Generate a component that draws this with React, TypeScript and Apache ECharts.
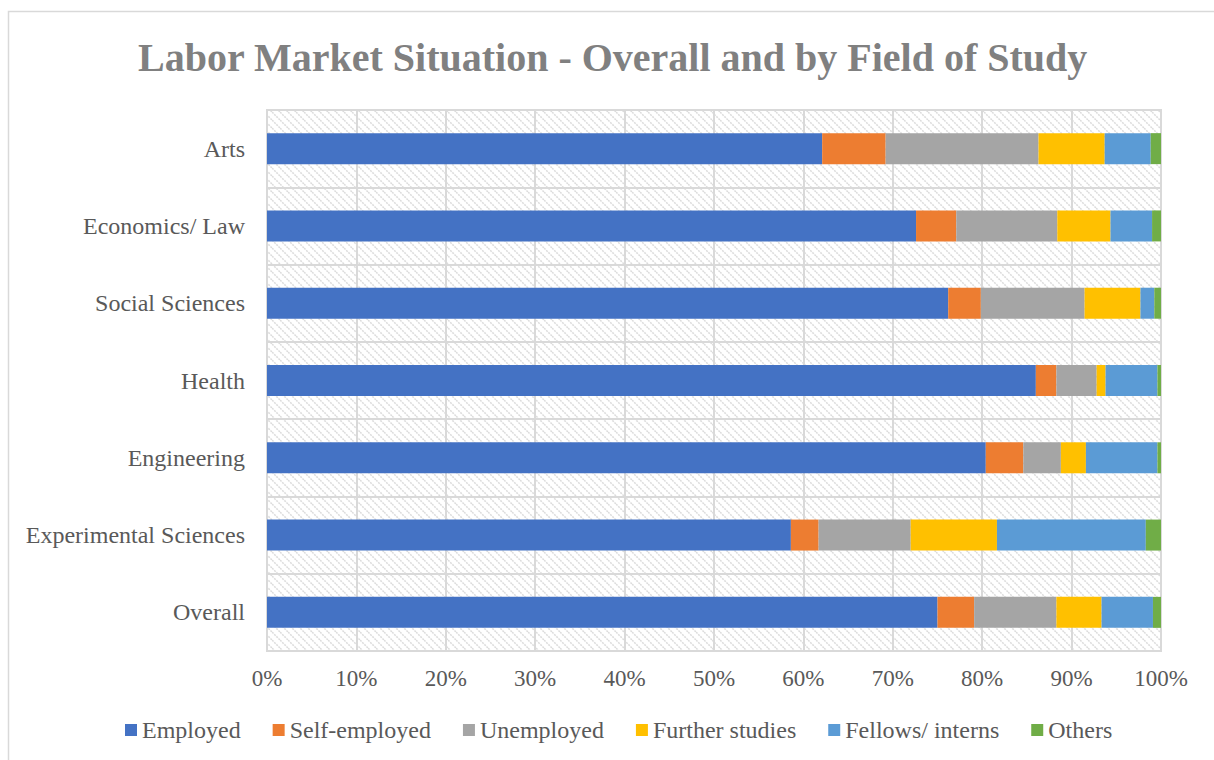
import React, { useEffect, useRef } from "react";
import * as echarts from "echarts";

const categories = [
  "Arts",
  "Economics/ Law",
  "Social Sciences",
  "Health",
  "Engineering",
  "Experimental Sciences",
  "Overall",
];
const employed = [62.1, 72.6, 76.2, 86.0, 80.4, 58.6, 75.0];
const selfEmployed = [7.1, 4.5, 3.65, 2.3, 4.2, 3.1, 4.1];
const unemployed = [17.1, 11.3, 11.6, 4.5, 4.2, 10.3, 9.2];
const furtherStudies = [7.4, 5.95, 6.25, 1.0, 2.8, 9.65, 5.05];
const fellowsInterns = [5.15, 4.65, 1.55, 5.8, 8.0, 16.65, 5.75];
const others = [1.15, 1.0, 0.75, 0.4, 0.4, 1.7, 0.9];
const seriesNames = [
  "Employed",
  "Self-employed",
  "Unemployed",
  "Further studies",
  "Fellows/ interns",
  "Others",
];
const seriesColors = ["#4472C4", "#ED7D31", "#A5A5A5", "#FFC000", "#5B9BD5", "#70AD47"];
const tickValues = [0, 10, 20, 30, 40, 50, 60, 70, 80, 90, 100];

const FONT = "'Liberation Serif', 'Times New Roman', serif";

const hatchSvg =
  "data:image/svg+xml;utf8," +
  encodeURIComponent(
    "<svg xmlns='http://www.w3.org/2000/svg' width='8' height='8'>" +
      "<rect width='8' height='8' fill='white'/>" +
      "<path d='M-2,-2 L10,10 M-2,6 L2,10 M6,-2 L10,2' stroke='#dcdcdc' stroke-width='1.5' stroke-dasharray='2,1'/>" +
      "</svg>"
  );

export default function App() {
  const ref = useRef<HTMLDivElement>(null);
  useEffect(() => {
    if (!ref.current) return;
    const chart = echarts.init(ref.current, undefined, { renderer: "svg" });
    const allData = [employed, selfEmployed, unemployed, furtherStudies, fellowsInterns, others];
    chart.setOption({
      animation: false,
      backgroundColor: "#ffffff",
      title: {
        text: "Labor Market Situation - Overall and by Field of Study",
        left: 133,
        top: 32,
        textStyle: {
          fontFamily: FONT,
          fontSize: 40,
          fontWeight: "bold",
          color: "#808080",
        },
      },
      graphic: [
        {
          type: "rect",
          shape: { x: 8.5, y: 11.5, width: 1400, height: 1000 },
          style: { fill: "none", stroke: "#d9d9d9", lineWidth: 1.5 },
          silent: true,
        },
      ],
      legend: {
        bottom: 13,
        left: 120,
        icon: "rect",
        itemWidth: 12,
        itemHeight: 12,
        itemGap: 32,
        textStyle: { fontFamily: FONT, fontSize: 24, color: "#595959" },
        data: seriesNames,
      },
      grid: {
        left: 267,
        right: 53,
        top: 110,
        bottom: 109,
        show: true,
        backgroundColor: { image: hatchSvg, repeat: "repeat" },
        borderColor: "#d9d9d9",
        borderWidth: 2,
      },
      xAxis: {
        type: "value",
        min: 0,
        max: 100,
        interval: 10,
        axisLine: { show: false },
        axisTick: { show: false },
        axisLabel: {
          formatter: (v: number) => (tickValues.includes(v) ? v + "%" : ""),
          fontFamily: FONT,
          fontSize: 23,
          color: "#595959",
          margin: 16,
        },
        splitLine: { show: true, lineStyle: { color: "#d9d9d9", width: 2 } },
      },
      yAxis: {
        type: "category",
        inverse: true,
        data: categories,
        axisLine: { show: true, lineStyle: { color: "#d9d9d9", width: 2 } },
        axisTick: { show: false },
        axisLabel: {
          fontFamily: FONT,
          fontSize: 24,
          color: "#595959",
          margin: 22,
        },
        splitLine: { show: true, lineStyle: { color: "#d9d9d9", width: 2 } },
      },
      series: seriesNames.map((name, i) => ({
        name,
        type: "bar",
        stack: "total",
        barWidth: 31,
        data: allData[i],
        itemStyle: { color: seriesColors[i] },
      })),
    });
    return () => chart.dispose();
  }, []);
  return (
    <div
      ref={ref}
      style={{ position: "fixed", left: 0, top: 0, width: 1214, height: 760 }}
    />
  );
}
